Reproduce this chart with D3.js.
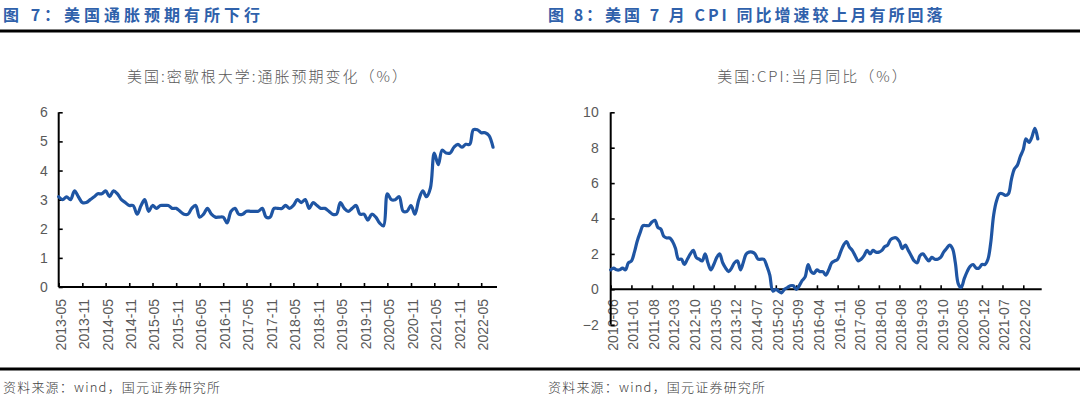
<!DOCTYPE html>
<html><head><meta charset="utf-8">
<script src="https://cdn.jsdelivr.net/npm/d3@7"></script>
<style>
body{margin:0;background:#fff;}
svg{display:block;}
</style>
</head><body>
<svg id="c" width="1080" height="399"></svg>
<script>
// ---------- DATA ----------
const leftTitle = "图 7：美国通胀预期有所下行";
const rightTitle = "图 8：美国 7 月 CPI 同比增速较上月有所回落";
const leftSubtitle = "美国:密歇根大学:通胀预期变化（%）";
const rightSubtitle = "美国:CPI:当月同比（%）";
const sourceText = "资料来源：wind，国元证券研究所";

const leftStart = "2013-05";
const leftValues = [
  3.1,3.0,3.1,3.0,3.3,3.1,2.9,2.9,
  3.0,3.1,3.2,3.2,3.3,3.1,3.3,3.2,3.0,2.9,2.8,2.8,
  2.5,2.8,3.0,2.6,2.8,2.7,2.8,2.8,2.8,2.7,2.7,2.6,
  2.5,2.5,2.7,2.8,2.4,2.5,2.7,2.5,2.4,2.4,2.4,2.2,
  2.6,2.7,2.5,2.5,2.6,2.6,2.6,2.6,2.7,2.4,2.4,2.7,
  2.7,2.7,2.8,2.7,2.8,3.0,2.9,3.0,2.7,2.9,2.8,2.7,
  2.7,2.6,2.5,2.5,2.9,2.7,2.6,2.7,2.8,2.5,2.5,2.3,
  2.5,2.4,2.2,2.1,3.2,3.0,3.0,3.1,2.6,2.6,2.8,2.5,
  3.0,3.3,3.1,3.4,4.6,4.2,4.7,4.6,4.6,4.8,4.9,4.8,
  4.9,4.9,5.4,5.4,5.3,5.3,5.2,4.8
];
const leftXTicks = ["2013-05","2013-11","2014-05","2014-11","2015-05","2015-11","2016-05","2016-11",
  "2017-05","2017-11","2018-05","2018-11","2019-05","2019-11","2020-05","2020-11","2021-05","2021-11","2022-05"];
const leftXEnd = "2022-09";
const leftYTicks = [0,1,2,3,4,5,6];

const rightStart = "2010-06";
const rightValues = [
  1.1,1.2,1.1,1.1,1.2,1.1,1.5,
  1.6,2.1,2.7,3.2,3.6,3.6,3.6,3.8,3.9,3.5,3.4,3.0,
  2.9,2.9,2.7,2.3,1.7,1.7,1.4,1.7,2.0,2.2,1.8,1.7,
  1.6,2.0,1.5,1.1,1.4,1.8,2.0,1.5,1.2,1.0,1.2,1.5,
  1.6,1.1,1.5,2.0,2.1,2.1,2.0,1.7,1.7,1.7,1.3,0.8,
  -0.1,0.0,-0.1,-0.2,0.0,0.1,0.2,0.2,0.0,0.2,0.5,0.7,
  1.4,1.0,0.9,1.1,1.0,1.0,0.8,1.1,1.5,1.6,1.7,2.1,
  2.5,2.7,2.4,2.2,1.9,1.6,1.7,1.9,2.2,2.0,2.2,2.1,
  2.1,2.2,2.4,2.5,2.8,2.9,2.9,2.7,2.3,2.5,2.2,1.9,
  1.6,1.5,1.9,2.0,1.8,1.6,1.8,1.7,1.7,1.8,2.1,2.3,
  2.5,2.3,1.5,0.3,0.1,0.6,1.0,1.3,1.4,1.2,1.2,1.4,
  1.4,1.7,2.6,4.2,5.0,5.4,5.4,5.3,5.4,6.2,6.8,7.0,
  7.5,7.9,8.5,8.3,8.6,9.1,8.5
];
const rightXTicks = ["2010-06","2011-01","2011-08","2012-03","2012-10","2013-05","2013-12","2014-07",
  "2015-02","2015-09","2016-04","2016-11","2017-06","2018-01","2018-08","2019-03","2019-10","2020-05",
  "2020-12","2021-07","2022-02"];
const rightXEnd = "2022-08";
const rightYTicks = [-2,0,2,4,6,8,10];

// ---------- DRAW ----------
const parse = d3.utcParse("%Y-%m");
const fmt = d3.utcFormat("%Y-%m");
const svg = d3.select("#c");
const LINE = "#1f55a3";
const GRAY = "#595959";
const TITLE = "#2f61ab";

// header titles
svg.append("text").attr("x",3).attr("y",21).text(leftTitle)
  .attr("fill",TITLE).attr("font-size",16).attr("font-weight","bold")
  .attr("letter-spacing",4).attr("font-family","'Noto Sans CJK SC', 'Liberation Sans', sans-serif");
svg.append("text").attr("x",548).attr("y",21).text(rightTitle)
  .attr("fill",TITLE).attr("font-size",16).attr("font-weight","bold")
  .attr("letter-spacing",3).attr("font-family","'Noto Sans CJK SC', 'Liberation Sans', sans-serif");
svg.append("line").attr("x1",0).attr("x2",1080).attr("y1",31).attr("y2",31)
  .attr("stroke","#000").attr("stroke-width",3);
svg.append("line").attr("x1",0).attr("x2",1080).attr("y1",369).attr("y2",369)
  .attr("stroke","#000").attr("stroke-width",3);
svg.append("text").attr("x",3).attr("y",392).text(sourceText)
  .attr("fill","#404040").attr("font-size",13).attr("letter-spacing",1.2)
  .attr("font-family","'Noto Sans CJK SC', sans-serif").attr("font-weight",300);
svg.append("text").attr("x",548).attr("y",392).text(sourceText)
  .attr("fill","#404040").attr("font-size",13).attr("letter-spacing",1.2)
  .attr("font-family","'Noto Sans CJK SC', sans-serif").attr("font-weight",300);

function drawChart(cfg){
  const g = svg.append("g");
  const dates = d3.utcMonth.range(parse(cfg.start), d3.utcMonth.offset(parse(cfg.start), cfg.values.length));
  const data = dates.map((d,i)=>({d, v: cfg.values[i]}));
  const x = d3.scaleUtc().domain([parse(cfg.start), parse(cfg.xEnd)]).range([cfg.x0, cfg.x1]);
  const y = d3.scaleLinear().domain([cfg.yTicks[0], cfg.yTicks[cfg.yTicks.length-1]]).range([cfg.yBottom, cfg.yTop]);
  const y0 = y(cfg.xAxisAt);

  // subtitle
  g.append("text").attr("x",cfg.subX).attr("y",82).attr("text-anchor","middle")
    .text(cfg.subtitle).attr("fill",GRAY).attr("font-size",15).attr("letter-spacing",2)
    .attr("font-family","'Noto Sans CJK SC', sans-serif").attr("font-weight",300);

  // x axis
  const xAxis = d3.axisBottom(x).tickValues(cfg.xTicks.map(parse)).tickFormat(fmt)
    .tickSize(-4).tickSizeOuter(0).tickPadding(0);
  const gx = g.append("g").attr("transform",`translate(0,${y0})`).call(xAxis);
  gx.select(".domain").remove();
  gx.selectAll(".tick line").attr("stroke","#000").attr("stroke-width",1.6);
  gx.selectAll(".tick text").attr("transform","rotate(-90)")
    .attr("x",-cfg.labelOffset).attr("y",1.5).attr("dy","0.35em").attr("text-anchor","end")
    .attr("fill",GRAY).attr("font-size",14).attr("font-family","'Liberation Sans', Arial, sans-serif");

  // y axis
  const yAxis = d3.axisLeft(y).tickValues(cfg.yTicks).tickSize(-4).tickSizeOuter(0).tickPadding(cfg.yPad)
    .tickFormat(d3.format("d"));
  const gy = g.append("g").attr("transform",`translate(${cfg.x0},0)`).call(yAxis);
  gy.select(".domain").remove();
  gy.selectAll(".tick line").attr("stroke","#000").attr("stroke-width",1.6);
  gy.selectAll(".tick text").attr("fill",GRAY).attr("font-size",14)
    .attr("font-family","'Liberation Sans', Arial, sans-serif");

  // axis lines
  g.append("line").attr("x1",cfg.x0).attr("x2",cfg.axisEnd).attr("y1",y0).attr("y2",y0)
    .attr("stroke","#000").attr("stroke-width",2);
  g.append("line").attr("x1",cfg.x0).attr("x2",cfg.x0).attr("y1",cfg.yTop).attr("y2",cfg.yBottom)
    .attr("stroke","#000").attr("stroke-width",2);

  // series
  const line = d3.line().x(d=>x(d.d)).y(d=>y(d.v)).curve(d3.curveCatmullRom.alpha(0.5));
  g.append("path").datum(data).attr("d",line).attr("fill","none")
    .attr("stroke",LINE).attr("stroke-width",3.2).attr("stroke-linejoin","round").attr("stroke-linecap","round");
}

drawChart({start:leftStart, values:leftValues, xTicks:leftXTicks, xEnd:leftXEnd, yTicks:leftYTicks,
  x0:58.7, x1:497, axisEnd:497, yTop:112.3, yBottom:287, xAxisAt:0, labelOffset:12, yPad:11,
  subtitle:leftSubtitle, subX:268});
drawChart({start:rightStart, values:rightValues, xTicks:rightXTicks, xEnd:rightXEnd, yTicks:rightYTicks,
  x0:610.7, x1:1040.8, axisEnd:1041.7, yTop:112.3, yBottom:324.7, xAxisAt:0, labelOffset:10, yPad:12,
  subtitle:rightSubtitle, subX:813});
</script>
</body></html>
